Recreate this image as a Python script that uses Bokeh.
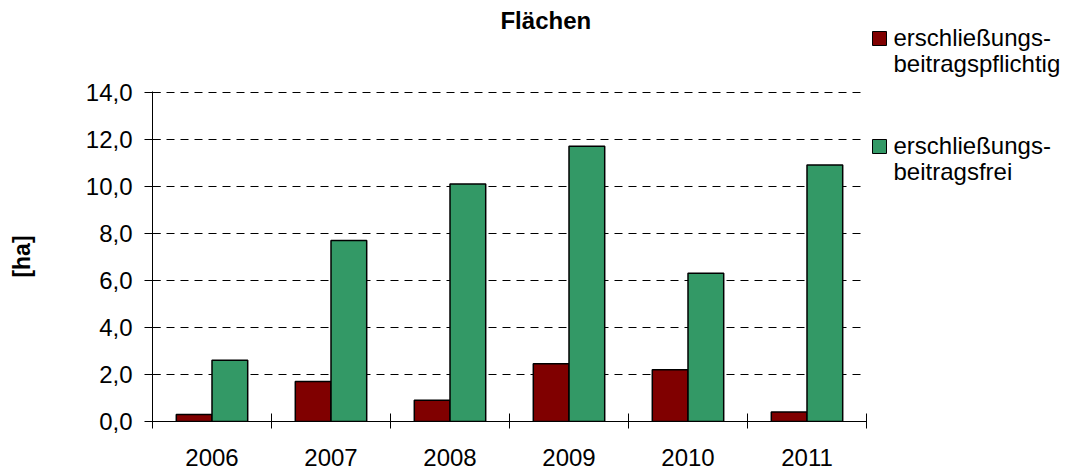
from bokeh.plotting import figure
from bokeh.models import Range1d, FixedTicker, ColumnDataSource
from bokeh.layouts import row, column
from bokeh.core.properties import value
from bokeh.embed import file_html
from bokeh.resources import INLINE

# ---- data ----
years = ["2006", "2007", "2008", "2009", "2010", "2011"]
pflichtig = [0.3, 1.7, 0.9, 2.45, 2.2, 0.4]
frei = [2.6, 7.7, 10.1, 11.7, 6.3, 10.9]
series_lines = [["erschließungs-", "beitragspflichtig"],
                ["erschließungs-", "beitragsfrei"]]
y_ticks = [0, 2, 4, 6, 8, 10, 12, 14]
y_tick_labels = ["0,0", "2,0", "4,0", "6,0", "8,0", "10,0", "12,0", "14,0"]
title_text = "Flächen"
y_label = "[ha]"

colors = ["#800000", "#339966"]
FONT = "Liberation Sans"

W_MAIN, W_LEG, H_TITLE, H_ALL = 868, 214, 60, 470

n = len(years)
centers = [i + 0.5 for i in range(n)]
bar_w = 0.3

# ---- title strip ----
tf = figure(width=W_MAIN, height=H_TITLE, output_backend="svg", toolbar_location=None,
            x_range=Range1d(0, W_MAIN), y_range=Range1d(H_TITLE, 0),
            x_axis_type=None, y_axis_type=None, min_border=0)
tf.outline_line_color = None
tf.text(x=[423], y=[20], text=[title_text], text_font=value(FONT),
        text_font_size="24px", text_font_style="bold", text_color="black",
        text_align="left", text_baseline="alphabetic")

# ---- main chart ----
p = figure(width=W_MAIN, height=H_ALL - H_TITLE, output_backend="svg",
           toolbar_location=None,
           x_range=Range1d(0, n), y_range=Range1d(0, 14.03),
           min_border_left=152, min_border_right=2, min_border_top=31,
           min_border_bottom=49)
p.outline_line_color = None

src = ColumnDataSource(dict(
    x1=[c - bar_w / 2 for c in centers],
    x2=[c + bar_w / 2 for c in centers],
    a=pflichtig, b=frei))
p.vbar(x="x1", top="a", width=bar_w, source=src, fill_color=colors[0],
       line_color="black", line_width=1.5)
p.vbar(x="x2", top="b", width=bar_w, source=src, fill_color=colors[1],
       line_color="black", line_width=1.5)

xa = p.xaxis[0]
xa.ticker = FixedTicker(ticks=centers, minor_ticks=list(range(n + 1)))
xa.major_label_overrides = {c: y for c, y in zip(centers, years)}
xa.major_tick_in = 0
xa.major_tick_out = 0
xa.minor_tick_in = 8
xa.minor_tick_out = 7
xa.minor_tick_line_color = "black"
xa.axis_line_color = "black"
xa.major_label_standoff = 20
xa.major_label_text_font = FONT
xa.major_label_text_font_size = "24px"
xa.major_label_text_color = "black"

ya = p.yaxis[0]
ya.ticker = FixedTicker(ticks=y_ticks)
ya.major_label_overrides = {t: l for t, l in zip(y_ticks, y_tick_labels)}
ya.major_tick_in = 8
ya.major_tick_out = 8
ya.minor_tick_line_color = None
ya.major_tick_line_color = "black"
ya.axis_line_color = "black"
ya.major_label_standoff = 12
ya.major_label_text_font = FONT
ya.major_label_text_font_size = "24px"
ya.major_label_text_color = "black"
ya.axis_label = y_label
ya.axis_label_text_font = FONT
ya.axis_label_text_font_size = "23px"
ya.axis_label_text_font_style = "bold"
ya.axis_label_text_color = "black"
ya.axis_label_standoff = 48

p.xgrid.grid_line_color = None
p.ygrid.grid_line_color = "black"
p.ygrid.grid_line_dash = "8 6"
p.ygrid.grid_line_width = 1

# ---- legend strip ----
lf = figure(width=W_LEG, height=H_ALL, output_backend="svg", toolbar_location=None,
            x_range=Range1d(W_MAIN, W_MAIN + W_LEG), y_range=Range1d(H_ALL, 0),
            x_axis_type=None, y_axis_type=None, min_border=0)
lf.outline_line_color = None
sq_left, sq_size, txt_x = 872, 14, 893
item_tops = [31, 139]
line_gap = 26
lf.quad(left=[sq_left] * 2, right=[sq_left + sq_size] * 2,
        top=item_tops, bottom=[t + sq_size for t in item_tops],
        fill_color=colors, line_color="black", line_width=1)
tx, ty, tt = [], [], []
for t, lines in zip(item_tops, series_lines):
    for k, ln in enumerate(lines):
        tx.append(txt_x)
        ty.append(t + 6 + k * line_gap)
        tt.append(ln)
lf.text(x=tx, y=ty, text=tt, text_font=value(FONT), text_font_size="24px",
        text_color="black", text_align="left", text_baseline="alphabetic")

layout = row(column(tf, p), lf)
open("out.html", "w").write(file_html(layout, INLINE))
